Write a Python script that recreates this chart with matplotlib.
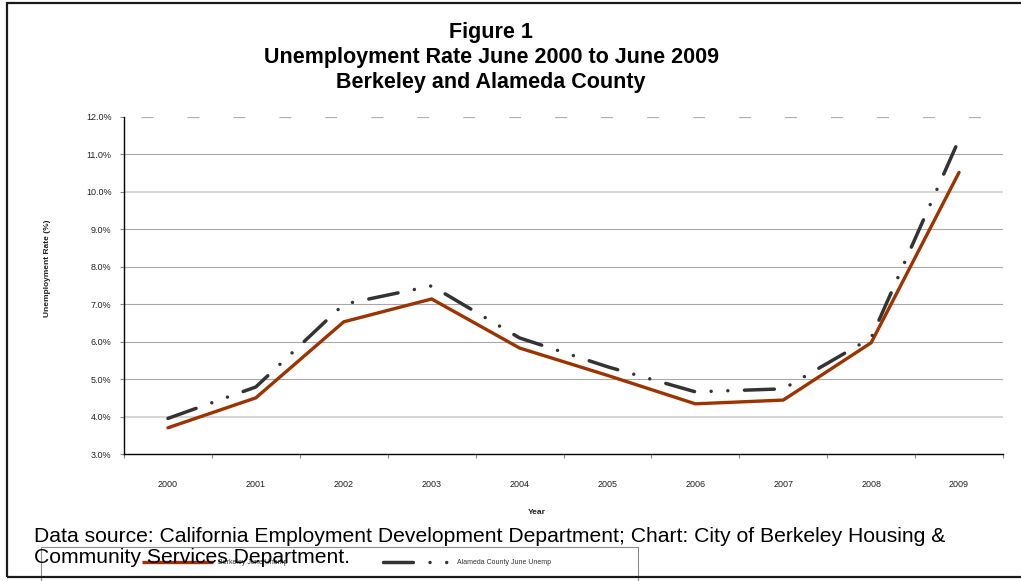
import matplotlib.pyplot as plt
import numpy as np
from matplotlib.patches import Rectangle
from matplotlib.lines import Line2D

plt.rcParams['font.family'] = ['Liberation Sans', 'DejaVu Sans']
plt.rcParams['lines.scale_dashes'] = False

# Datos (tasa de desempleo, junio de cada año)
years = ['2000', '2001', '2002', '2003', '2004', '2005', '2006', '2007', '2008', '2009']
berkeley = [3.70, 4.50, 6.53, 7.14, 5.83, 5.10, 4.34, 4.44, 5.97, 10.52]
alameda = [3.95, 4.79, 7.00, 7.49, 6.10, 5.33, 4.66, 4.74, 6.10, 11.40]
yticks = [3, 4, 5, 6, 7, 8, 9, 10, 11, 12]

W, H = 1021, 581
fig = plt.figure(figsize=(W / 100, H / 100), dpi=100)
ax = fig.add_axes([124 / W, 1 - 454 / H, (1003 - 124) / W, (454 - 117) / H])

x = np.arange(len(years))
ala_style = (0, (21.5, 12, 0.01, 12, 0.01, 12))

# Líneas de cuadrícula
for v in yticks[1:-1]:
    if v in (4, 10):
        ax.axhline(v, color='#d6d6d6', lw=1.4, zorder=1)
    else:
        ax.axhline(v, color='#a8a8a8', lw=0.8, zorder=1)
ax.axhline(12, color='#b0b0b0', lw=0.9, zorder=1, linestyle=(20.9, (8.6, 24.5)))

# Series
l_berk, = ax.plot(x, berkeley, color='#9c3300', lw=2.4, solid_capstyle='round',
                  solid_joinstyle='miter', zorder=3, label='Berkeley June Unemp')
l_ala, = ax.plot(x, alameda, color='#333333', lw=2.5, dash_capstyle='round',
                 linestyle=ala_style, zorder=4, label='Alameda County June Unemp')

ax.set_xlim(-0.5, len(years) - 0.5)
ax.set_ylim(3, 12)

# Ticks del eje x entre categorías, etiquetas centradas
ax.set_xticks(np.arange(-0.5, len(years)))
ax.set_xticklabels([])
ax.set_xticks(x, minor=True)
ax.set_xticklabels(years, minor=True, fontsize=6.5, color='#222222')
ax.tick_params(axis='x', which='major', length=3, color='#888888')
ax.tick_params(axis='x', which='minor', length=0, pad=19)

ax.set_yticks(yticks)
ax.set_yticklabels([f'{v:.1f}%' for v in yticks], fontsize=6.5, color='#222222')
ax.tick_params(axis='y', length=3, color='#888888', pad=6)

for s in ['top', 'right']:
    ax.spines[s].set_visible(False)
ax.spines['left'].set_linewidth(1.0)
ax.spines['bottom'].set_linewidth(1.0)

# Etiquetas de ejes
fig.text(47 / W, 1 - 268 / H, 'Unemployment Rate (%)', rotation=90, ha='center',
         va='center', fontsize=6, fontweight='bold', color='#222222')
fig.text(537 / W, 1 - 513 / H, 'Year', ha='center', va='center', fontsize=6,
         fontweight='bold', color='#222222')

# Título
tx = 491 / W
tfs = 15.5
fig.text(tx, 1 - 38 / H, 'Figure 1', ha='center', va='baseline', fontsize=tfs, fontweight='bold')
fig.text(tx, 1 - 63 / H, 'Unemployment Rate June 2000 to June 2009', ha='center',
         va='baseline', fontsize=tfs, fontweight='bold')
fig.text(tx, 1 - 88 / H, 'Berkeley and Alameda County', ha='center', va='baseline',
         fontsize=tfs, fontweight='bold')

# Leyenda (parcialmente cortada al pie de la figura)
fig.patches.append(Rectangle((41 / W, -0.05), (638 - 41) / W, 0.05 + 1 - 547 / H,
                             transform=fig.transFigure, fill=False, edgecolor='#8c8c8c',
                             lw=0.8, zorder=1))
ly = 1 - 562 / H
for handle, style, x0, x1 in [(l_berk, '-', 142, 213), (l_ala, ala_style, 383, 452)]:
    fig.lines.append(Line2D([x0 / W, x1 / W], [ly, ly], transform=fig.transFigure,
                            color=handle.get_color(), lw=handle.get_linewidth(),
                            linestyle=style, dash_capstyle='round',
                            solid_capstyle='butt', zorder=2))
    fig.text((x1 + 5) / W, ly, handle.get_label(), fontsize=5, va='center',
             color='#333333', zorder=2)

# Fuente de los datos
sfs = 15.2
fig.text(34 / W, 1 - 542 / H, 'Data source: California Employment Development Department; '
         'Chart: City of Berkeley Housing &', fontsize=sfs, va='baseline', zorder=5)
fig.text(34 / W, 1 - 563 / H, 'Community Services Department.', fontsize=sfs,
         va='baseline', zorder=5)

# Marco exterior
fig.patches.append(Rectangle((6.5 / W, 1 - 577 / H), 1.02, (577 - 3) / H,
                             transform=fig.transFigure, fill=False, edgecolor='#1a1a1a',
                             lw=1.6, zorder=6))

fig.savefig('out.png', dpi=100)
